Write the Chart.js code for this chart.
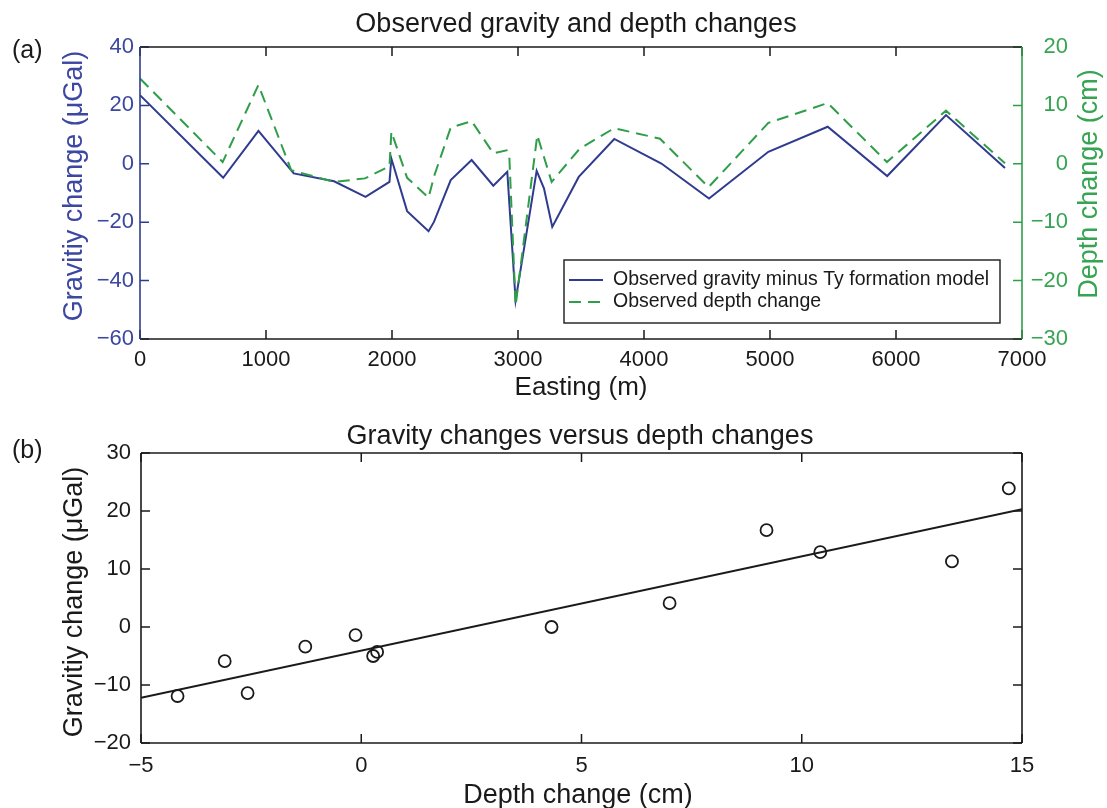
<!DOCTYPE html>
<html>
<head>
<meta charset="utf-8">
<script src="https://cdn.jsdelivr.net/npm/chart.js@4.4.0/dist/chart.umd.min.js"></script>
<style>
  html, body { margin: 0; padding: 0; background: #fff; }
  #wrap { position: relative; width: 1107px; height: 808px; }
  canvas { position: absolute; left: 0; }
  #top { top: 0; }
  #bot { top: 400px; }
</style>
</head>
<body>
<div id="wrap">
  <canvas id="top" width="1107" height="400"></canvas>
  <canvas id="bot" width="1107" height="408"></canvas>
</div>
<script>
// ── DATA ──────────────────────────────────────────────────────────────────

// (a) profile along easting
const gravEasting  = [0, 660, 940, 1220, 1540, 1790, 1980, 1995, 2120, 2290, 2333, 2466, 2632, 2804,
                      2915, 2981, 3148, 3206, 3272, 3482, 3764, 4138, 4516, 4987, 5458, 5930, 6397, 6865];
const gravValues   = [23.5, -4.8, 11.3, -3.3, -6.0, -11.3, -6.2, 1.8, -16.2, -23.1, -19.9, -5.6, 1.3, -7.5,
                      -2.7, -46.8, -2.4, -8.4, -21.6, -4.5, 8.5, 0.1, -11.9, 4.1, 12.7, -4.2, 16.7, -1.4];
const depthEasting = [0, 656, 940, 1200, 1540, 1786, 1980, 1995, 2120, 2290, 2333, 2466, 2632, 2804,
                      2910, 2931, 2981, 3153, 3267, 3490, 3764, 4127, 4512, 4987, 5458, 5928, 6397, 6865];
const depthValues  = [14.6, 0.3, 13.5, -1.1, -3.1, -2.5, -0.4, 5.5, -2.4, -5.8, -2.2, 6.2, 7.3, 1.8,
                      2.3, 1.3, -24.3, 4.9, -3.1, 2.6, 6.1, 4.3, -4.0, 7.0, 10.4, 0.3, 9.1, 0.1];

const eastingTicks = [0, 1000, 2000, 3000, 4000, 5000, 6000, 7000];
const gravTicksA   = [-60, -40, -20, 0, 20, 40];
const depthTicksA  = [-30, -20, -10, 0, 10, 20];

// (b) gravity vs depth
const depthPts = [-4.17, -3.1, -2.58, -1.27, -0.13, 0.27, 0.36, 4.32, 7.0, 9.2, 10.42, 13.41, 14.7];
const gravPts  = [-11.9, -5.9, -11.4, -3.4, -1.4, -5.0, -4.3, 0.0, 4.1, 16.7, 12.9, 11.3, 23.9];
const fitDepth = [-5, 15];
const fitGrav  = [-12.2, 20.3];

const depthTicksB = [-5, 0, 5, 10, 15];
const gravTicksB  = [-20, -10, 0, 10, 20, 30];

// ── STYLE ─────────────────────────────────────────────────────────────────

const BLUE      = '#2f3b8f';
const BLUE_TXT  = '#3b47a0';
const GREEN     = '#2f9e49';
const GREEN_TXT = '#36a452';
const INK       = '#1a1a1a';
const FONT      = "'Liberation Sans', Arial, Helvetica, sans-serif";
const TICK      = 9;

Chart.defaults.font.family = FONT;

function pairs(xs, ys) {
  return xs.map((x, i) => ({ x: x, y: ys[i] }));
}

function fixTicks(list) {
  return function(scale) { scale.ticks = list.map(v => ({ value: v })); };
}

// plain numbers, no thousands separator, real minus sign
function minus(v) {
  return String(v).replace('-', '\u2212');
}

function label(ctx, s, x, y, font, color, rot, align) {
  ctx.save();
  ctx.font = font;
  ctx.fillStyle = color;
  ctx.textAlign = align || 'center';
  ctx.textBaseline = 'alphabetic';
  ctx.translate(x, y);
  if (rot) ctx.rotate(rot);
  ctx.fillText(s, 0, 0);
  ctx.restore();
}

function inwardTicks(ctx, scale, side, color) {
  const a = scale.chart.chartArea;
  ctx.strokeStyle = color;
  ctx.lineWidth = 1.5;
  ctx.beginPath();
  scale.ticks.forEach(t => {
    const p = scale.getPixelForValue(t.value);
    if (side === 'bottom') { ctx.moveTo(p, a.bottom); ctx.lineTo(p, a.bottom - TICK); }
    if (side === 'top')    { ctx.moveTo(p, a.top);    ctx.lineTo(p, a.top + TICK); }
    if (side === 'left')   { ctx.moveTo(a.left, p);   ctx.lineTo(a.left + TICK, p); }
    if (side === 'right')  { ctx.moveTo(a.right, p);  ctx.lineTo(a.right - TICK, p); }
  });
  ctx.stroke();
}

function edge(ctx, x1, y1, x2, y2, color) {
  ctx.strokeStyle = color;
  ctx.lineWidth = 1.6;
  ctx.beginPath();
  ctx.moveTo(x1, y1);
  ctx.lineTo(x2, y2);
  ctx.stroke();
}

const tickFont = { size: 22 };
const noGrid   = { display: false, drawTicks: false };

// ── (a) PROFILE ───────────────────────────────────────────────────────────

const framePluginA = {
  id: 'frameA',
  afterDraw(chart) {
    const ctx = chart.ctx, a = chart.chartArea, s = chart.scales;
    ctx.save();
    inwardTicks(ctx, s.x, 'bottom', INK);
    inwardTicks(ctx, s.x, 'top', INK);
    inwardTicks(ctx, s.y, 'left', BLUE);
    inwardTicks(ctx, s.y1, 'right', GREEN);
    edge(ctx, a.left, a.top, a.right, a.top, INK);
    edge(ctx, a.left, a.bottom, a.right, a.bottom, INK);
    edge(ctx, a.left, a.top, a.left, a.bottom, BLUE);
    edge(ctx, a.right, a.top, a.right, a.bottom, GREEN);

    // legend box
    const ds = chart.data.datasets;
    ctx.fillStyle = '#fff';
    ctx.fillRect(564, 260, 436, 63);
    ctx.strokeStyle = INK;
    ctx.lineWidth = 1.4;
    ctx.strokeRect(564, 260, 436, 63);
    [280, 302].forEach((yy, i) => {
      ctx.strokeStyle = ds[i].borderColor;
      ctx.lineWidth = 2;
      ctx.setLineDash(ds[i].borderDash || []);
      ctx.beginPath();
      ctx.moveTo(569, yy);
      ctx.lineTo(603, yy);
      ctx.stroke();
      ctx.setLineDash([]);
      ctx.font = '19.5px ' + FONT;
      ctx.fillStyle = INK;
      ctx.textAlign = 'left';
      ctx.textBaseline = 'middle';
      ctx.fillText(ds[i].label, 613, yy);
    });

    label(ctx, 'Observed gravity and depth changes', 576, 32, '27px ' + FONT, INK);
    label(ctx, '(a)', 12, 58, '25px ' + FONT, INK, 0, 'left');
    label(ctx, 'Easting (m)', 581, 395, '26px ' + FONT, INK);
    label(ctx, 'Gravitiy change (\u03bcGal)', 82, 186, '27px ' + FONT, BLUE_TXT, -Math.PI / 2);
    label(ctx, 'Depth change (cm)', 1097, 184, '27px ' + FONT, GREEN_TXT, -Math.PI / 2);
    ctx.restore();
  }
};

new Chart(document.getElementById('top'), {
  type: 'line',
  data: {
    datasets: [{
      label:       'Observed gravity minus Ty formation model',
      data:        pairs(gravEasting, gravValues),
      yAxisID:     'y',
      borderColor: BLUE,
      borderWidth: 2,
      pointRadius: 0,
      tension:     0,
      order:       1
    }, {
      label:       'Observed depth change',
      data:        pairs(depthEasting, depthValues),
      yAxisID:     'y1',
      borderColor: GREEN,
      borderWidth: 2,
      borderDash:  [12, 7],
      pointRadius: 0,
      tension:     0,
      order:       0
    }]
  },
  options: {
    responsive:       false,
    animation:        false,
    devicePixelRatio: 1,
    events:           [],
    layout: { padding: { top: 47, left: 0, right: 39, bottom: 0 } },
    plugins: {
      legend:  { display: false },
      tooltip: { enabled: false }
    },
    scales: {
      x: {
        type: 'linear', min: 0, max: 7000,
        grid:   noGrid,
        border: { display: false },
        ticks:  { font: tickFont, color: INK, padding: 8, maxRotation: 0, callback: minus },
        afterBuildTicks: fixTicks(eastingTicks),
        afterFit: s => { s.height = 61; }
      },
      y: {
        position: 'left', min: -60, max: 40,
        grid:   noGrid,
        border: { display: false },
        ticks:  { font: tickFont, color: BLUE_TXT, padding: 6, callback: minus },
        afterBuildTicks: fixTicks(gravTicksA),
        afterFit: s => { s.width = 140; }
      },
      y1: {
        position: 'right', min: -30, max: 20,
        grid:   noGrid,
        border: { display: false },
        ticks:  { font: tickFont, color: GREEN_TXT, padding: 9, crossAlign: 'far', callback: minus },
        afterBuildTicks: fixTicks(depthTicksA),
        afterFit: s => { s.width = 46; }
      }
    }
  },
  plugins: [framePluginA]
});

// ── (b) SCATTER ───────────────────────────────────────────────────────────

const framePluginB = {
  id: 'frameB',
  afterDraw(chart) {
    const ctx = chart.ctx, a = chart.chartArea, s = chart.scales;
    ctx.save();
    inwardTicks(ctx, s.x, 'bottom', INK);
    inwardTicks(ctx, s.x, 'top', INK);
    inwardTicks(ctx, s.y, 'left', INK);
    inwardTicks(ctx, s.y, 'right', INK);
    edge(ctx, a.left, a.top, a.right, a.top, INK);
    edge(ctx, a.left, a.bottom, a.right, a.bottom, INK);
    edge(ctx, a.left, a.top, a.left, a.bottom, INK);
    edge(ctx, a.right, a.top, a.right, a.bottom, INK);

    label(ctx, 'Gravity changes versus depth changes', 580, 44, '27px ' + FONT, INK);
    label(ctx, '(b)', 12, 58, '25px ' + FONT, INK, 0, 'left');
    label(ctx, 'Depth change (cm)', 578, 403, '27px ' + FONT, INK);
    label(ctx, 'Gravitiy change (\u03bcGal)', 82, 202, '27px ' + FONT, INK, -Math.PI / 2);
    ctx.restore();
  }
};

new Chart(document.getElementById('bot'), {
  type: 'scatter',
  data: {
    datasets: [{
      data:            pairs(depthPts, gravPts),
      showLine:        false,
      pointStyle:      'circle',
      pointRadius:     6,
      borderColor:     INK,
      borderWidth:     1.8,
      backgroundColor: 'rgba(0,0,0,0)'
    }, {
      data:        pairs(fitDepth, fitGrav),
      showLine:    true,
      pointRadius: 0,
      borderColor: INK,
      borderWidth: 2
    }]
  },
  options: {
    responsive:       false,
    animation:        false,
    devicePixelRatio: 1,
    events:           [],
    layout: { padding: { top: 53, left: 0, right: 85, bottom: 0 } },
    plugins: {
      legend:  { display: false },
      tooltip: { enabled: false }
    },
    scales: {
      x: {
        type: 'linear', min: -5, max: 15,
        grid:   noGrid,
        border: { display: false },
        ticks:  { font: tickFont, color: INK, padding: 10, maxRotation: 0, callback: minus },
        afterBuildTicks: fixTicks(depthTicksB),
        afterFit: s => { s.height = 65; }
      },
      y: {
        min: -20, max: 30,
        grid:   noGrid,
        border: { display: false },
        ticks:  { font: tickFont, color: INK, padding: 10, callback: minus },
        afterBuildTicks: fixTicks(gravTicksB),
        afterFit: s => { s.width = 141; }
      }
    }
  },
  plugins: [framePluginB]
});
</script>
</body>
</html>
